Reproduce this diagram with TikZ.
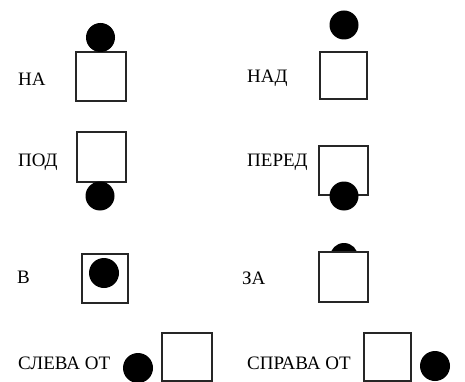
\documentclass[tikz,border=0pt]{standalone}
\usepackage{fontspec}
\setmainfont{Liberation Serif}
\begin{document}
\begin{tikzpicture}[x=1pt,y=-1pt,
  box/.style={draw=black!85,line width=1.3pt,fill=white,inner sep=0pt,rectangle},
  ball/.style={circle,fill=black,inner sep=0pt,minimum size=#1},
  lbl/.style={anchor=base west,inner sep=0pt,font=\fontsize{19}{22}\selectfont}]
\useasboundingbox (0,0) rectangle (465,382);
% labels
\node[lbl] (tNa) at (18,86) {НА};
\node[lbl] (tPod) at (18,166) {ПОД};
\node[lbl] (tV) at (17,283) {В};
\node[lbl] (tSleva) at (18,369) {СЛЕВА ОТ};
\node[lbl] (tNad) at (247,83) {НАД};
\node[lbl] (tPered) at (247,166) {ПЕРЕД};
\node[lbl] (tZa) at (242,284) {ЗА};
\node[lbl] (tSprava) at (247,369) {СПРАВА ОТ};
% НА
\node[box,minimum width=50pt,minimum height=49pt] (sNa) at (101,76.5) {};
\node[ball=29pt] (bNa) at (100.5,37.5) {};
% ПОД
\node[box,minimum width=49pt,minimum height=50pt] (sPod) at (101.5,157) {};
\node[ball=29pt] (bPod) at (100,196) {};
% НАД
\node[box,minimum width=47pt,minimum height=47pt] (sNad) at (343.5,75.5) {};
\node[ball=29pt] (bNad) at (344,25) {};
% ПЕРЕД
\node[box,minimum width=49pt,minimum height=49pt] (sPered) at (343.5,170.5) {};
\node[ball=29pt] (bPered) at (344,196) {};
% В
\node[box,minimum width=46pt,minimum height=49pt] (sV) at (105,278.5) {};
\node[ball=30pt] (bV) at (104,273) {};
% ЗА (ball behind the box)
\node[ball=28pt] (bZa) at (344,257) {};
\node[box,minimum width=49pt,minimum height=50pt] (sZa) at (343.5,277) {};
% СЛЕВА ОТ
\node[box,minimum width=50pt,minimum height=48pt] (sSleva) at (187,357) {};
\node[ball=30pt] (bSleva) at (138,368) {};
% СПРАВА ОТ
\node[box,minimum width=47pt,minimum height=48pt] (sSprava) at (387.5,357) {};
\node[ball=30pt] (bSprava) at (435,366) {};
\end{tikzpicture}
\end{document}
